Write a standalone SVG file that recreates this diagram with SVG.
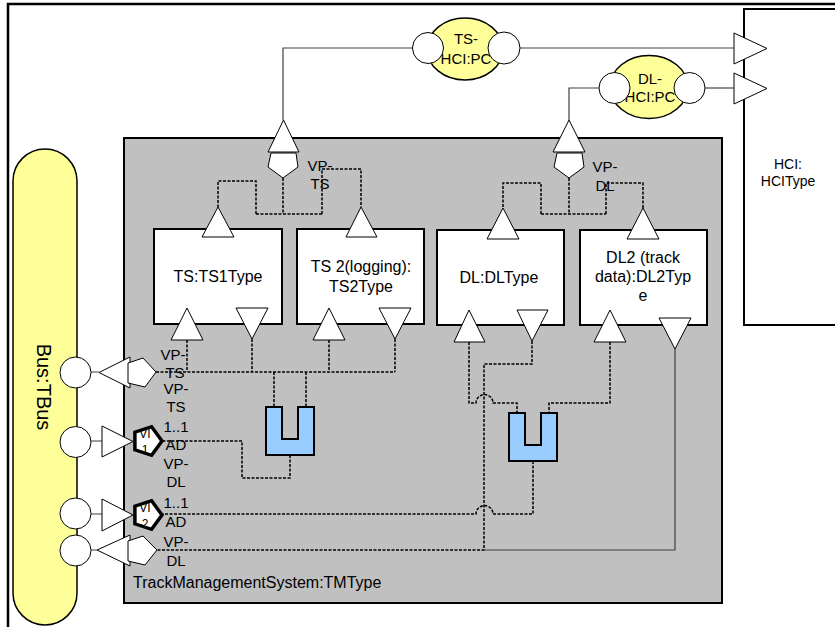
<svg xmlns="http://www.w3.org/2000/svg" width="835" height="627" viewBox="0 0 835 627">
<style>
text{font-family:"Liberation Sans",Arial,sans-serif;fill:#000}
.box{fill:#fff;stroke:#000;stroke-width:2}
.port{fill:#fff;stroke:#000;stroke-width:1}
.vif{fill:#fff;stroke:none}
.vis{fill:none;stroke:#000;stroke-width:3.5;stroke-linejoin:miter}
.dash{fill:none;stroke:#000;stroke-width:1.5;stroke-dasharray:3,1.5}
.solid{fill:none;stroke:#404040;stroke-width:1.2}
.u{fill:#99CCFF;stroke:#000;stroke-width:2}
.t16{font-size:16px;text-anchor:middle}
.t15{font-size:15px;text-anchor:middle}
.t14{font-size:14px;text-anchor:middle}
.t12{font-size:12px;text-anchor:middle}
</style>
<rect x="0" y="0" width="835" height="627" fill="#fff"/>
<rect x="8" y="4" width="860" height="660" fill="none" stroke="#000" stroke-width="2.5"/>

<g id="hci">
<rect x="744" y="9" width="120" height="316" class="box"/>
<text class="t14" x="788" y="169">HCI:</text>
<text class="t14" x="788" y="186">HCIType</text>
<polygon class="port" points="734,33 734,64 767,48.5"/>
<polygon class="port" points="734,73 734,104 767,88.5"/>
</g>

<g id="tm">
<rect x="124" y="138" width="598" height="465" fill="#C0C0C0" stroke="#000" stroke-width="2"/>
<text x="133" y="587.5" font-size="16px">TrackManagementSystem:TMType</text>
</g>

<g id="bus">
<rect x="13" y="149" width="64" height="476" rx="32" ry="32" fill="#FFFF99" stroke="#000" stroke-width="1.5"/>
<text transform="translate(37,387) rotate(90)" font-size="20px" text-anchor="middle">Bus:TBus</text>
</g>

<g id="ts1">
<rect x="154" y="229" width="128" height="95" class="box"/>
<text class="t16" x="218" y="282">TS:TS1Type</text>
</g>
<g id="ts2">
<rect x="297" y="229" width="127" height="95" class="box"/>
<text class="t16" x="361" y="272">TS 2(logging):</text>
<text class="t16" x="361" y="292">TS2Type</text>
</g>
<g id="dl">
<rect x="437" y="230" width="127" height="95" class="box"/>
<text class="t16" x="499" y="283">DL:DLType</text>
</g>
<g id="dl2">
<rect x="580" y="230" width="127" height="95" class="box"/>
<text class="t16" x="643" y="263">DL2 (track</text>
<text class="t16" x="643" y="282">data):DL2Typ</text>
<text class="t16" x="643" y="301">e</text>
</g>

<g id="labels">
<text class="t15" x="320" y="171">VP-</text>
<text class="t15" x="320" y="189">TS</text>
<text class="t15" x="605" y="172">VP-</text>
<text class="t15" x="605" y="191">DL</text>
<text class="t15" x="173" y="359.5">VP-</text>
<text class="t15" x="175" y="377.5">TS</text>
<text class="t15" x="176" y="393.5">VP-</text>
<text class="t15" x="176" y="411.5">TS</text>
<text class="t15" x="176" y="431.5">1..1</text>
<text class="t15" x="176" y="450">AD</text>
<text class="t15" x="176" y="468.5">VP-</text>
<text class="t15" x="176" y="487">DL</text>
<text class="t15" x="176" y="507.5">1..1</text>
<text class="t15" x="176" y="526.5">AD</text>
<text class="t15" x="176" y="546.5">VP-</text>
<text class="t15" x="176" y="566">DL</text>
</g>

<g id="connectors">
<path class="solid" d="M413,48 H283 V120"/>
<path class="solid" d="M520,48 H734"/>
<path class="solid" d="M599,88 H569 V120"/>
<path class="solid" d="M705,88 H734"/>
<path class="dash" d="M283,178 V214 M256,214 H322 M256,214 V181 H218 V207 M322,214 V169 H361 V207"/>
<path class="dash" d="M569,178 V214 M541,214 H606 M541,214 V183 H503 V208 M606,214 V183 H643 V208"/>
<path class="dash" d="M156,372 H395 M187,340 V372 M252,339 V372 M329,340 V372 M395,339 V372 M274,372 V407 M306,372 V407"/>
<path class="dash" d="M290,455 V478 H242 V441 H162"/>
<path class="dash" d="M469,342 V403 H476 A8.5,8.5 0 0 1 493,403 H517 V413 M610,342 V403 H549 V413"/>
<path class="dash" d="M532,341 V364 H484 V550 H157"/>
<path class="dash" d="M533,461 V514 H493 A8.5,8.5 0 0 0 476,514 H162"/>
<path class="solid" d="M484,550 H675 V349"/>
<path class="solid" d="M91,372 H99 M91,441 H102 M91,514 H102 M91,550 H97"/>
</g>

<g id="ports">
<polygon class="port" points="268,152 299,152 283.5,120"/>
<polygon class="port" points="271,153 296,153 298,167 283,178 268,167"/>
<polygon class="port" points="553,152 585,152 569,120"/>
<polygon class="port" points="557,153 582,153 584,167 569,178 554,167"/>
<polygon class="port" points="202,237 234,237 218,207"/>
<polygon class="port" points="346,237 377,237 361,207"/>
<polygon class="port" points="487,239 519,239 503,208"/>
<polygon class="port" points="627,239 659,239 643,208"/>
<polygon class="port" points="171,340 203,340 187,308"/>
<polygon class="port" points="236,308 268,308 252,339"/>
<polygon class="port" points="313,340 345,340 329,308"/>
<polygon class="port" points="379,308 411,308 395,339"/>
<polygon class="port" points="454,342 485,342 469,310"/>
<polygon class="port" points="517,310 548,310 532,341"/>
<polygon class="port" points="594,342 626,342 610,310"/>
<polygon class="port" points="659,318 691,318 675,349"/>
<polygon class="port" points="130,357 130,388 99,372.5"/>
<polygon class="port" points="128,363 143,358 156,372 145,387 128,383"/>
<polygon class="port" points="102,426 102,457 133,441.5"/>
<polygon class="port" points="102,499 102,531 133,515"/>
<polygon class="port" points="130,535 130,566 97,550"/>
<polygon class="port" points="128,541 143,536 157,550 145,565 128,561"/>
<circle class="port" cx="75.5" cy="372.5" r="15.5"/>
<circle class="port" cx="75.5" cy="442" r="15.5"/>
<circle class="port" cx="75.5" cy="513.5" r="15.5"/>
<circle class="port" cx="75.5" cy="550.5" r="15.5"/>
</g>

<g id="vi1">
<polygon class="vif" points="162,441 151.6,455.3 134.9,449.8 134.9,432.2 151.6,426.7"/>
<text class="t12" x="145" y="438">VI</text>
<text class="t12" x="145" y="454">1</text>
<polygon class="vis" points="162,441 151.6,455.3 134.9,449.8 134.9,432.2 151.6,426.7"/>
</g>
<g id="vi2">
<polygon class="vif" points="162,515 151.6,529.3 134.9,523.8 134.9,506.2 151.6,500.7"/>
<text class="t12" x="145" y="512">VI</text>
<text class="t12" x="145" y="528">2</text>
<polygon class="vis" points="162,515 151.6,529.3 134.9,523.8 134.9,506.2 151.6,500.7"/>
</g>

<g id="u_ts"><path class="u" d="M266,407 H282 V439 H298 V407 H314 V455 H266 Z"/></g>
<g id="u_dl"><path class="u" d="M509,413 H525 V445 H541 V413 H557 V461 H509 Z"/></g>

<g id="ts_hci_pc">
<ellipse cx="465" cy="49" rx="38" ry="31" fill="#FFFF99" stroke="#000" stroke-width="1.5"/>
<text class="t15" x="466" y="43.5">TS-</text>
<text class="t15" x="466" y="63.5">HCI:PC</text>
<circle class="port" cx="428" cy="48" r="15.5"/>
<circle class="port" cx="504" cy="48" r="16"/>
</g>
<g id="dl_hci_pc">
<ellipse cx="649" cy="87" rx="39" ry="31.5" fill="#FFFF99" stroke="#000" stroke-width="1.5"/>
<text class="t15" x="650" y="83.5">DL-</text>
<text class="t15" x="650" y="102">HCI:PC</text>
<circle class="port" cx="614.5" cy="88" r="15.5"/>
<circle class="port" cx="689.5" cy="88" r="15.5"/>
</g>
</svg>
